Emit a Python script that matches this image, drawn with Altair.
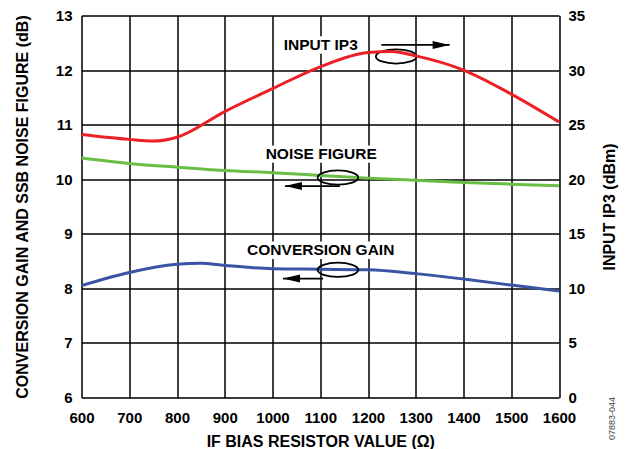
import altair as alt
import pandas as pd

# ---------------- data ----------------
cg_x = [600, 700, 800, 850, 900, 1000, 1100, 1200, 1300, 1400, 1500, 1600]
cg_y = [8.05, 8.29, 8.44, 8.46, 8.42, 8.36, 8.35, 8.34, 8.27, 8.17, 8.06, 7.95]

nf_x = [600, 700, 800, 900, 1000, 1100, 1200, 1300, 1400, 1500, 1600]
nf_y = [10.39, 10.29, 10.22, 10.16, 10.12, 10.07, 10.02, 9.98, 9.94, 9.91, 9.88]

ip3_x = [600, 700, 750, 800, 900, 1000, 1100, 1200, 1250, 1300, 1400, 1500, 1600]
ip3_y = [24.1, 23.65, 23.5, 23.85, 26.2, 28.3, 30.3, 31.6, 31.7, 31.3, 30.0, 27.8, 25.25]

x_ticks = list(range(600, 1700, 100))
left_ticks = list(range(6, 14))
right_ticks = list(range(0, 40, 5))

# annotation labels (position in data units of the left axis)
lab_text = ["INPUT IP3", "NOISE FIGURE", "CONVERSION GAIN"]
lab_x = [1101, 1102, 1101]
lab_y = [12.46, 10.46, 8.70]
lab_x0 = [1013, 978, 936]
lab_x1 = [1189, 1226, 1266]

ell_x = [1259, 1137, 1137]
ell_y = [12.25, 10.03, 8.34]

arr_y = [12.46, 9.875, 8.18]
arr_start = [1228, 1141, 1106]
arr_tip = [1371, 1026, 1022]
arr_dir = ["right", "left", "left"]

FONT = "Liberation Sans"
W, H = 477.5, 382

curves = pd.DataFrame(
    {"x": cg_x + nf_x, "y": cg_y + nf_y,
     "s": ["CG"] * len(cg_x) + ["NF"] * len(nf_x)}
)
ip3 = pd.DataFrame({"x": ip3_x, "y": ip3_y})
labels = pd.DataFrame({"t": lab_text, "x": lab_x, "y": lab_y,
                       "x0": lab_x0, "x1": lab_x1,
                       "y0": [v - 0.16 for v in lab_y], "y1": [v + 0.16 for v in lab_y]})
ells = pd.DataFrame({"x": ell_x, "y": ell_y})
arrows = pd.DataFrame({"y": arr_y, "x0": arr_start, "x1": arr_tip, "d": arr_dir})

xs = alt.Scale(domain=[600, 1600], nice=False, zero=False)
ys = alt.Scale(domain=[6, 13], nice=False, zero=False)
ys2 = alt.Scale(domain=[0, 35], nice=False, zero=False)

x_axis = alt.Axis(values=x_ticks, title="IF BIAS RESISTOR VALUE (Ω)", format="d",
                  grid=True, gridColor="#000", gridOpacity=1, gridWidth=1.5,
                  domain=False, ticks=False, tickSize=0, labelPadding=24.8,
                  labelBaseline="alphabetic", labelFlush=False, labelOverlap=False,
                  labelFont=FONT, labelFontSize=15, labelFontWeight="bold", labelColor="#000",
                  titleFont=FONT, titleFontSize=16, titleFontWeight="bold", titleColor="#000",
                  titleBaseline="alphabetic", titleY=49.2)
y_axis = alt.Axis(values=left_ticks, title="CONVERSION GAIN AND SSB NOISE FIGURE (dB)",
                  orient="left", grid=True, gridColor="#000", gridOpacity=1, gridWidth=1.5,
                  domain=False, ticks=False, tickSize=0, labelPadding=9.5,
                  labelFlush=False, labelOverlap=False,
                  labelFont=FONT, labelFontSize=15, labelFontWeight="bold", labelColor="#000",
                  titleFont=FONT, titleFontSize=16, titleFontWeight="bold", titleColor="#000",
                  titleAngle=270, titleBaseline="alphabetic", titleX=-53.6)
y_axis2 = alt.Axis(values=right_ticks, title="INPUT IP3 (dBm)", orient="right",
                   grid=False, domain=False, ticks=False, tickSize=0, labelPadding=9,
                   labelFlush=False, labelOverlap=False,
                   labelFont=FONT, labelFontSize=15, labelFontWeight="bold", labelColor="#000",
                   titleFont=FONT, titleFontSize=16, titleFontWeight="bold", titleColor="#000",
                   titleAngle=270, titleBaseline="alphabetic", titleX=55.2)

X = alt.X("x:Q", scale=xs, axis=x_axis)

bg = alt.Chart(labels).mark_rect(color="white").encode(
    x=alt.X("x0:Q", scale=xs, axis=x_axis), x2="x1:Q",
    y=alt.Y("y0:Q", scale=ys, axis=y_axis), y2="y1:Q")

lines = alt.Chart(curves).mark_line(strokeWidth=3, interpolate="monotone").encode(
    x=X, y=alt.Y("y:Q", scale=ys, axis=y_axis),
    color=alt.Color("s:N", scale=alt.Scale(domain=["CG", "NF"], range=["#3a53a4", "#6abd45"]),
                    legend=None),
    detail="s:N")

ellipse_path = "M -1 0 A 1 0.35 0 1 0 1 0 A 1 0.35 0 1 0 -1 0 Z"
ell = alt.Chart(ells).mark_point(shape=ellipse_path, size=1650, filled=False,
                                 stroke="#000", strokeWidth=1.8, opacity=1).encode(
    x=X, y=alt.Y("y:Q", scale=ys, axis=y_axis))

shafts = alt.Chart(arrows).mark_rule(color="#000", strokeWidth=1.8).encode(
    x=alt.X("x0:Q", scale=xs, axis=x_axis), x2="x1:Q",
    y=alt.Y("y:Q", scale=ys, axis=y_axis))

heads = alt.Chart(arrows).mark_point(filled=True, size=1156, opacity=1, color="#000").encode(
    x=alt.X("x1:Q", scale=xs, axis=x_axis),
    y=alt.Y("y:Q", scale=ys, axis=y_axis),
    shape=alt.Shape("d:N", scale=alt.Scale(domain=["right", "left"],
                                           range=["M 0 0 L -1 -0.24 L -1 0.24 Z",
                                                  "M 0 0 L 1 -0.24 L 1 0.24 Z"]),
                    legend=None))

texts = alt.Chart(labels).mark_text(font=FONT, fontSize=15.5, fontWeight="bold",
                                    color="#000", baseline="middle", align="center").encode(
    x=X, y=alt.Y("y:Q", scale=ys, axis=y_axis), text="t:N")

fig_id = alt.Chart(pd.DataFrame({"t": ["07883-044"]})).mark_text(
    font=FONT, fontSize=9, color="#444", angle=270, align="center", baseline="middle"
).encode(x=alt.value(530), y=alt.value(403), text="t:N")

left = alt.layer(bg, lines, ell, shafts, heads, texts, fig_id)

right = alt.Chart(ip3).mark_line(strokeWidth=3, color="#ec2027", interpolate="monotone").encode(
    x=X, y=alt.Y("y:Q", scale=ys2, axis=y_axis2))

chart = alt.layer(left, right).resolve_scale(y="independent").properties(
    width=W, height=H,
    autosize=alt.AutoSizeParams(type="none"),
    padding={"left": 73.5, "top": 7.5, "right": 62, "bottom": 51.5},
).configure_view(stroke="#000", strokeWidth=2.5).configure(background="white")

chart.save("out.html", embed_options={"renderer": "svg", "actions": False})
